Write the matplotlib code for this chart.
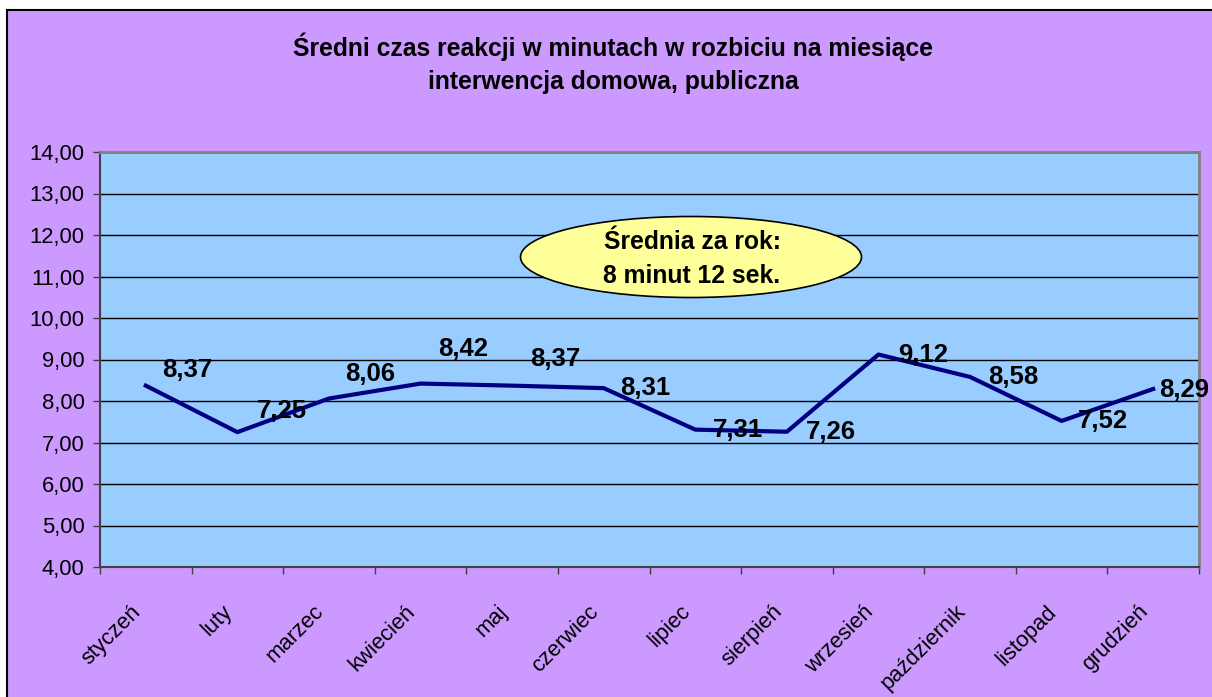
import matplotlib.pyplot as plt
from matplotlib.patches import Ellipse, Rectangle
from matplotlib.transforms import ScaledTranslation

plt.rcParams['font.family'] = ['Liberation Sans', 'DejaVu Sans']

months = ['styczeń', 'luty', 'marzec', 'kwiecień', 'maj', 'czerwiec',
          'lipiec', 'sierpień', 'wrzesień', 'październik', 'listopad', 'grudzień']
values = [8.37, 7.25, 8.06, 8.42, 8.37, 8.31, 7.31, 7.26, 9.12, 8.58, 7.52, 8.29]
yticks = [4, 5, 6, 7, 8, 9, 10, 11, 12, 13, 14]

title1 = 'Średni czas reakcji w minutach w rozbiciu na miesiące'
title2 = 'interwencja domowa, publiczna'
note = 'Średnia za rok:\n8 minut 12 sek.'

# label offsets in points (right of / above each point)
label_offsets = [(30, 11), (32, 15), (30, 18), (31, 25), (31, 19), (30, 0),
                 (31, 0), (32, 0), (32, 0), (31, 0), (30, 0), (22, -1)]

W, H = 1212, 697
fig = plt.figure(figsize=(W / 100, H / 100), dpi=100, facecolor='white')

# purple chart background
fig.patches.append(Rectangle((7 / W, -0.05), 1.1, 1 - 10 / H + 0.05,
                             transform=fig.transFigure, facecolor='#CC99FF',
                             edgecolor='black', lw=1.5, zorder=-10))

fig.text(613 / W, 1 - 47 / H, title1, ha='center', va='center',
         fontsize=17.8, fontweight='bold')
fig.text(613 / W, 1 - 82 / H, title2, ha='center', va='center',
         fontsize=17.8, fontweight='bold')

ax = fig.add_axes([100 / W, (H - 567) / H, 1099 / W, (567 - 152) / H])
ax.set_facecolor('#99CCFF')

x = list(range(len(months)))
ax.plot(x, values, color='#000080', lw=3, zorder=3)

for xi, v, (dx, dy) in zip(x, values, label_offsets):
    ax.annotate(f'{v:.2f}'.replace('.', ','), (xi, v), xytext=(dx, dy),
                textcoords='offset points', ha='center', va='center',
                fontsize=18.5, fontweight='bold', zorder=4,
                annotation_clip=False)

ax.set_xlim(-0.5, len(months) - 0.5)
ax.set_ylim(4, 14)
ax.set_yticks(yticks)
ax.set_yticklabels([f'{t:.2f}'.replace('.', ',') for t in yticks], fontsize=15.8)
ax.yaxis.grid(True, color='black', lw=1)
ax.set_axisbelow(True)

ax.set_xticks([i - 0.5 for i in range(len(months) + 1)])
ax.set_xticklabels([])
ax.set_xticks(x, minor=True)
ax.set_xticklabels(months, minor=True, rotation=45, ha='right', va='center',
                   rotation_mode='anchor', fontsize=15.8)
ax.tick_params(axis='x', which='minor', length=0, pad=30)
ax.tick_params(axis='both', which='major', length=5, width=1, direction='out',
               color='#404040')
ax.tick_params(axis='y', pad=6)
shift = ScaledTranslation(-0.08, 0, fig.dpi_scale_trans)
for lab in ax.get_xticklabels(minor=True):
    lab.set_transform(lab.get_transform() + shift)

for s in ['top', 'right']:
    ax.spines[s].set_color('#808080')
    ax.spines[s].set_linewidth(2)
for s in ['left', 'bottom']:
    ax.spines[s].set_color('#404040')
    ax.spines[s].set_linewidth(1.5)

ell = Ellipse((691 / W, 1 - 257 / H), 341 / W, 81 / H, transform=fig.transFigure,
              facecolor='#FFFF99', edgecolor='black', lw=1.2, zorder=5)
fig.patches.append(ell)
fig.text(692 / W, 1 - 259 / H, note, ha='center', va='center', fontsize=17.8,
         fontweight='bold', linespacing=1.55, zorder=6)

fig.savefig('out.png', dpi=100, facecolor=fig.get_facecolor())
